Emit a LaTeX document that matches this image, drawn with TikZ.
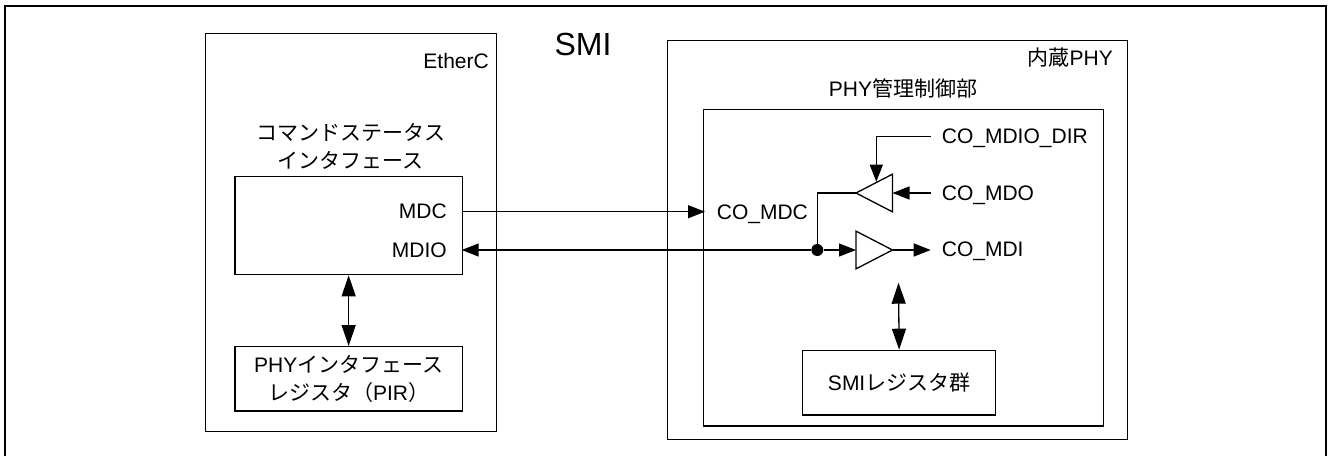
\documentclass[tikz,border=0pt]{standalone}
\usepackage{fontspec}
\setmainfont{Liberation Sans}
\newfontfamily\cjk{Noto Sans CJK JP}
\usetikzlibrary{arrows.meta,shapes.geometric}
\tikzset{
  x=1pt,y=-1pt,
  every node/.style={font=\fontsize{21}{28}\selectfont,text=black,inner sep=0pt},
  boxn/.style={draw=black,line width=1.3pt,anchor=north west,minimum width=#1},
  wire/.style={line width=1.3pt,draw=black},
  arr/.style={wire,-{Triangle[length=17pt,width=13pt,fill=black]}},
  larr/.style={wire,{Triangle[length=17pt,width=13pt,fill=black]}-},
  biarr/.style={wire,{Triangle[length=21pt,width=14pt,fill=black]}-{Triangle[length=21pt,width=14pt,fill=black]}},
  buf/.style={draw=black,line width=1.3pt,isosceles triangle,isosceles triangle apex angle=53,isosceles triangle stretches,minimum width=37.7pt,minimum height=36.5pt,inner sep=0pt,outer sep=0pt,anchor=apex},
}
\begin{document}
\begin{tikzpicture}
\useasboundingbox (0,0) rectangle (1330,456);
\draw[line width=1.8pt] (5,456) -- (5,6) -- (1326,6) -- (1326,456);
\node[boxn=291pt,minimum height=398.3pt] (ether) at (204.7,32.7) {};
\node[boxn=460.5pt,minimum height=399pt] (phy) at (666.5,40) {};
\node[boxn=400pt,minimum height=316.3pt] (ctl) at (703,109) {};
\node[boxn=227.4pt,minimum height=98.3pt] (cmd) at (234.3,175.7) {};
\node[boxn=227.4pt,minimum height=64.3pt,align=center] (pir) at (234.3,346) {PHY{\cjk インタフェース}\\{\cjk レジスタ（}PIR{\cjk ）}};
\node[boxn=193pt,minimum height=64.6pt] (reg) at (802,349.7) {SMI{\cjk レジスタ群}};
\node[anchor=base,font=\fontsize{32}{36}\selectfont] (smi) at (583,55) {SMI};
\node[anchor=base east] (etherc) at (489,68) {EtherC};
\node[anchor=east] (phyt) at (1113,58) {{\cjk 内蔵}PHY};
\node[anchor=center] (ctlt) at (903,88) {PHY{\cjk 管理制御部}};
\node[anchor=center,align=center] (cmdt) at (350.5,146) {{\cjk コマンドステータス}\\{\cjk インタフェース}};
\node[anchor=base east] (mdc) at (447,218.5) {MDC};
\node[anchor=base east] (mdio) at (447,257) {MDIO};
\node[anchor=base west] (comdc) at (716.7,219) {CO\_MDC};
\node[anchor=base west] (codir) at (941.7,143) {CO\_MDIO\_DIR};
\node[anchor=base west] (codo) at (941.7,200) {CO\_MDO};
\node[anchor=base west] (codi) at (941.7,256.5) {CO\_MDI};
\node[buf,shape border rotate=180] (bufu) at (856,193) {};
\node[buf] (bufl) at (892.5,250) {};
\node[circle,fill=black,minimum size=12pt] (jn) at (817.3,250) {};
\coordinate (cdir) at (930.7,136.7);
\coordinate (cdo) at (930.7,193);
\coordinate (cdi) at (930.7,250);
\coordinate (cmdr) at (461.7,211.7);
\coordinate (cmdio) at (461.7,250);
\coordinate (cco) at (705,211.7);
\coordinate (cbt) at (876.3,181.7);
\coordinate (cregt) at (898.5,282.7);
\draw[arr] (cdir) -| (cbt);
\draw[arr] (cdo) -- (bufu.east);
\draw[arr] (bufl.east) -- (cdi);
\draw[arr] (jn) -- (bufl.west);
\draw[wire] (jn) |- (bufu.west);
\draw[arr] (cmdr) -- (cco);
\draw[larr] (cmdio) -- (jn);
\draw[biarr] (cmd.south) -- (pir.north);
\draw[biarr] (cregt) -- (reg.north);
\end{tikzpicture}
\end{document}
